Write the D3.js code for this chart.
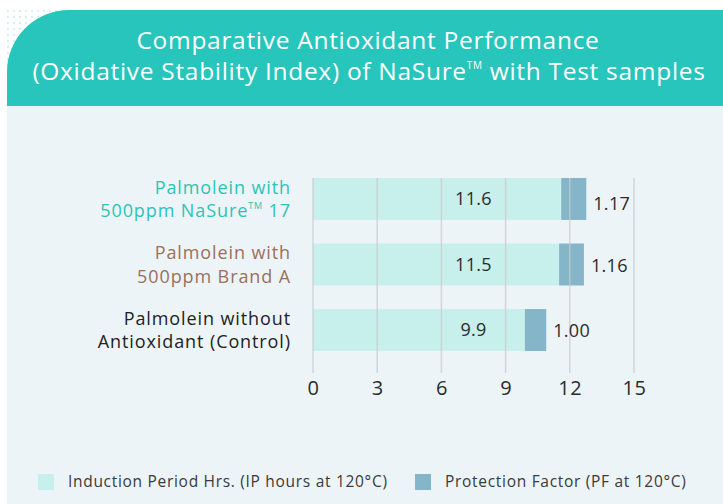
<!DOCTYPE html>
<html>
  <head>
    <title>Oxidative Stability Index</title>
    <script src="https://d3js.org/d3.v7.min.js"></script>
    <style>
      body { margin: 0; background: #ffffff; }
      svg { display: block; font-family: "Open Sans", "Noto Sans", sans-serif; }
      .grid line { stroke: #c9cccf; stroke-width: 1.5px; }
      .axis .domain, .axis .tick line { display: none; }
      .axis .tick text { font-size: 20px; fill: #2b2b2b; font-family: "Open Sans", sans-serif; letter-spacing: 0.5px; }
      .cat { font-size: 18px; text-anchor: end; letter-spacing: 0.9px; }
      .val { font-size: 18px; fill: #2b2b2b; letter-spacing: 0.3px; }
      .legend text { font-size: 15.5px; fill: #3a3a3a; letter-spacing: 0.7px; }
    </style>
  </head>
  <body>
    <svg width="723" height="504"></svg>
    <script>
      const categories = [
        ["Palmolein with", "500ppm NaSure\u2122 17"],
        ["Palmolein with", "500ppm Brand A"],
        ["Palmolein without", "Antioxidant (Control)"]
      ];
      const categoryColors = ["#2cc3b7", "#9a705d", "#222222"];
      const inductionPeriod = [11.6, 11.5, 9.9];
      const protectionFactor = [1.17, 1.16, 1.00];
      const ticks = [0, 3, 6, 9, 12, 15];
      const legendLabels = ["Induction Period Hrs. (IP hours at 120\u00B0C)", "Protection Factor (PF at 120\u00B0C)"];
      const ipColor = "#c7efeb";
      const pfColor = "#85b5c9";

      const svg = d3.select("svg");
      const width = +svg.attr("width");
      const height = +svg.attr("height");

      // background panel + title banner
      svg.append("rect")
        .attr("x", 7).attr("y", 60).attr("width", width - 7).attr("height", height - 60)
        .attr("fill", "#edf4f7");

      const dots = svg.append("g").attr("fill", "#9fe0da");
      d3.range(0, 9).forEach(i => d3.range(0, 9).forEach(j => {
        dots.append("circle").attr("cx", 8 + i * 6).attr("cy", 11 + j * 6).attr("r", 0.8);
      }));

      const r = 62, bx = 7, by = 10, bb = 106;
      svg.append("path")
        .attr("d", `M${bx},${bb} V${by + r} A${r},${r} 0 0 1 ${bx + r},${by} H${width} V${bb} Z`)
        .attr("fill", "#27c5bc");

      const title = svg.append("text")
        .attr("fill", "#ffffff")
        .attr("font-size", 24.5)
        .attr("font-weight", 500)
        .attr("letter-spacing", 0.7)
        .attr("text-anchor", "middle");
      title.append("tspan").attr("x", 368).attr("y", 49).text("Comparative Antioxidant Performance");
      const t2 = title.append("tspan").attr("x", 369).attr("y", 80);
      t2.append("tspan").text("(Oxidative Stability Index) of NaSure");
      t2.append("tspan").attr("font-size", 10).attr("dy", -11).text("TM");
      t2.append("tspan").attr("dy", 11).text(" with Test samples");

      // chart
      const margin = {left: 313, top: 178};
      const xScale = d3.scaleLinear().domain([0, 15]).range([0, 321]);
      const yScale = d3.scaleBand()
        .domain(d3.range(categories.length))
        .range([0, 173])
        .paddingInner(0.36)
        .paddingOuter(0);

      const g = svg.append("g").attr("transform", `translate(${margin.left}, ${margin.top})`);

      g.selectAll(".ip").data(inductionPeriod).enter().append("rect")
        .attr("class", "ip")
        .attr("x", xScale(0))
        .attr("y", (d, i) => yScale(i))
        .attr("width", d => xScale(d) - xScale(0))
        .attr("height", yScale.bandwidth())
        .attr("fill", ipColor);

      g.selectAll(".pf").data(protectionFactor).enter().append("rect")
        .attr("class", "pf")
        .attr("x", (d, i) => xScale(inductionPeriod[i]))
        .attr("y", (d, i) => yScale(i))
        .attr("width", d => xScale(d) - xScale(0))
        .attr("height", yScale.bandwidth())
        .attr("fill", pfColor);

      const gridG = g.append("g").attr("class", "grid").attr("opacity", 0.75);
      gridG.selectAll("line").data(ticks).enter().append("line")
        .attr("x1", d => xScale(d)).attr("x2", d => xScale(d))
        .attr("y1", 0).attr("y2", 195);

      const xAxis = d3.axisBottom(xScale).tickValues(ticks).tickSize(0).tickPadding(7);
      g.append("g").attr("class", "axis")
        .attr("transform", "translate(0, 196)")
        .call(xAxis);

      // value labels
      g.selectAll(".ipval").data(inductionPeriod).enter().append("text")
        .attr("class", "val")
        .attr("x", xScale(7.5))
        .attr("y", (d, i) => yScale(i) + yScale.bandwidth() / 2)
        .attr("dy", "0.35em")
        .attr("text-anchor", "middle")
        .text(d => d.toFixed(1));

      g.selectAll(".pfval").data(protectionFactor).enter().append("text")
        .attr("class", "val")
        .attr("x", (d, i) => xScale(inductionPeriod[i] + d) + 7)
        .attr("y", (d, i) => yScale(i) + yScale.bandwidth() / 2 + (i === 0 ? 5 : 1))
        .attr("dy", "0.35em")
        .text(d => d.toFixed(2));

      // category labels
      categories.forEach((lines, i) => {
        const t = g.append("text")
          .attr("class", "cat")
          .attr("fill", categoryColors[i])
          .attr("y", yScale(i) + yScale.bandwidth() / 2);
        t.append("tspan").attr("x", -22).attr("dy", "-0.3em").text(lines[0]);
        if (lines[1].includes("\u2122")) {
          const parts = lines[1].split("\u2122");
          const l2 = t.append("tspan").attr("x", -22).attr("dy", "1.3em");
          l2.append("tspan").text(parts[0]);
          l2.append("tspan").attr("font-size", 9).attr("dy", -8).text("TM");
          l2.append("tspan").attr("dy", 8).text(parts[1]);
        } else {
          t.append("tspan").attr("x", -22).attr("dy", "1.3em").text(lines[1]);
        }
      });

      // legend
      const legend = svg.append("g").attr("class", "legend");
      const legendX = [38, 415];
      [ipColor, pfColor].forEach((c, i) => {
        legend.append("rect")
          .attr("x", legendX[i]).attr("y", 474)
          .attr("width", 16).attr("height", 16)
          .attr("fill", c);
        legend.append("text")
          .attr("x", legendX[i] + 30).attr("y", 487)
          .text(legendLabels[i]);
      });
    </script>
  </body>
</html>
